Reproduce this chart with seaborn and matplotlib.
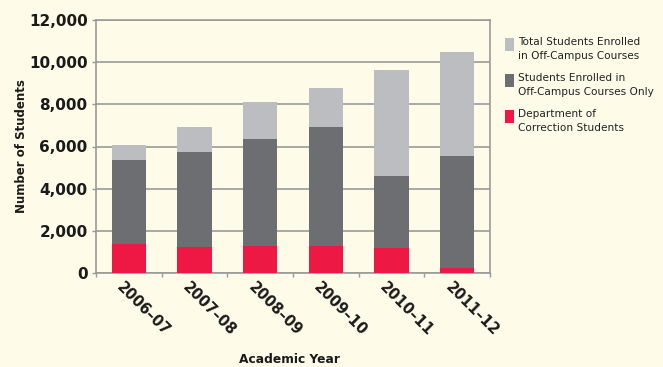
import matplotlib
matplotlib.use("Agg")
import matplotlib.pyplot as plt
import matplotlib.transforms as mtransforms
from matplotlib.patches import Rectangle
from matplotlib.ticker import FuncFormatter, FixedLocator
import seaborn as sns
import pandas as pd

years = ["2006\u201307", "2007\u201308", "2008\u201309", "2009\u201310", "2010\u201311", "2011\u201312"]
total_offcampus = [6070, 6930, 8110, 8780, 9630, 10480]
offcampus_only = [5360, 5740, 6360, 6930, 4600, 5550]
doc_students = [1390, 1230, 1280, 1280, 1200, 250]

series_labels = ["Total Students Enrolled\nin Off-Campus Courses",
                 "Students Enrolled in\nOff-Campus Courses Only",
                 "Department of\nCorrection Students"]
colors = ["#BCBDC0", "#6D6E71", "#ED1944"]
bg = "#FEFBE9"

sns.set_theme(style="white")
plt.rcParams['font.family'] = ['DejaVu Sans']

df = pd.DataFrame({"year": years, "total": total_offcampus,
                   "only": offcampus_only, "doc": doc_students})

W, H = 663, 367
fig = plt.figure(figsize=(W/100, H/100), dpi=100, facecolor=bg)
ax = fig.add_axes([96/W, 1-273/H, (490-96)/W, (273-20)/H])
ax.set_facecolor(bg)

for col, c in zip(["total", "only", "doc"], colors):
    sns.barplot(data=df, x="year", y=col, color=c, width=0.52, ax=ax,
                saturation=1, linewidth=0, edgecolor="none", zorder=3)

ax.set_ylim(0, 12000)
ax.set_xlim(-0.5, 5.5)
ax.set_yticks(range(0, 12001, 2000))
ax.yaxis.set_major_formatter(FuncFormatter(lambda v, p: f"{int(v):,}"))
ax.yaxis.grid(True, color="#9A9A9A", linewidth=1.2, zorder=0)
ax.set_axisbelow(True)

for s in ["left", "right", "top", "bottom"]:
    ax.spines[s].set_visible(True)
    ax.spines[s].set_color("#9A9A9A")
    ax.spines[s].set_linewidth(1.2)

ax.tick_params(axis="y", which="major", length=3, color="#9A9A9A", width=1,
               labelsize=11, pad=3, left=True)
for lab in ax.get_yticklabels():
    lab.set_fontweight("bold")
    lab.set_color("#1A1A1A")

ax.xaxis.set_minor_locator(FixedLocator([-0.5, 0.5, 1.5, 2.5, 3.5, 4.5, 5.5]))
ax.tick_params(axis="x", which="minor", length=3, color="#9A9A9A", width=1, bottom=True)
ax.tick_params(axis="x", which="major", length=0, pad=5)
ax.set_xticks(range(len(years)))
ax.set_xticklabels(years, rotation=-45, ha="left", rotation_mode="anchor",
                   fontsize=10.5, fontweight="bold", color="#1A1A1A")
offset = mtransforms.ScaledTranslation(-4/100, 0, fig.dpi_scale_trans)
for lab in ax.get_xticklabels():
    lab.set_transform(lab.get_transform() + offset)

ax.set_xlabel("Academic Year", fontsize=8.8, fontweight="bold", color="#1A1A1A")
ax.set_ylabel("Number of Students", fontsize=8.5, fontweight="bold", color="#1A1A1A")
ax.xaxis.set_label_coords(0.49, -0.315)
ax.yaxis.set_label_coords(-0.172, 0.5)

# legend (manual layout, no frame)
for i, (lbl, c) in enumerate(zip(series_labels, colors)):
    top = 38 + i * 36
    fig.add_artist(Rectangle((505/W, 1-(top+13)/H), 9/W, 13/H, transform=fig.transFigure,
                             facecolor=c, edgecolor="none"))
    fig.text(518/W, 1-(top-1)/H, lbl, ha="left", va="top", fontsize=7.6,
             color="#222222", linespacing=1.55)

fig.savefig("out.png", dpi=100, facecolor=bg)
